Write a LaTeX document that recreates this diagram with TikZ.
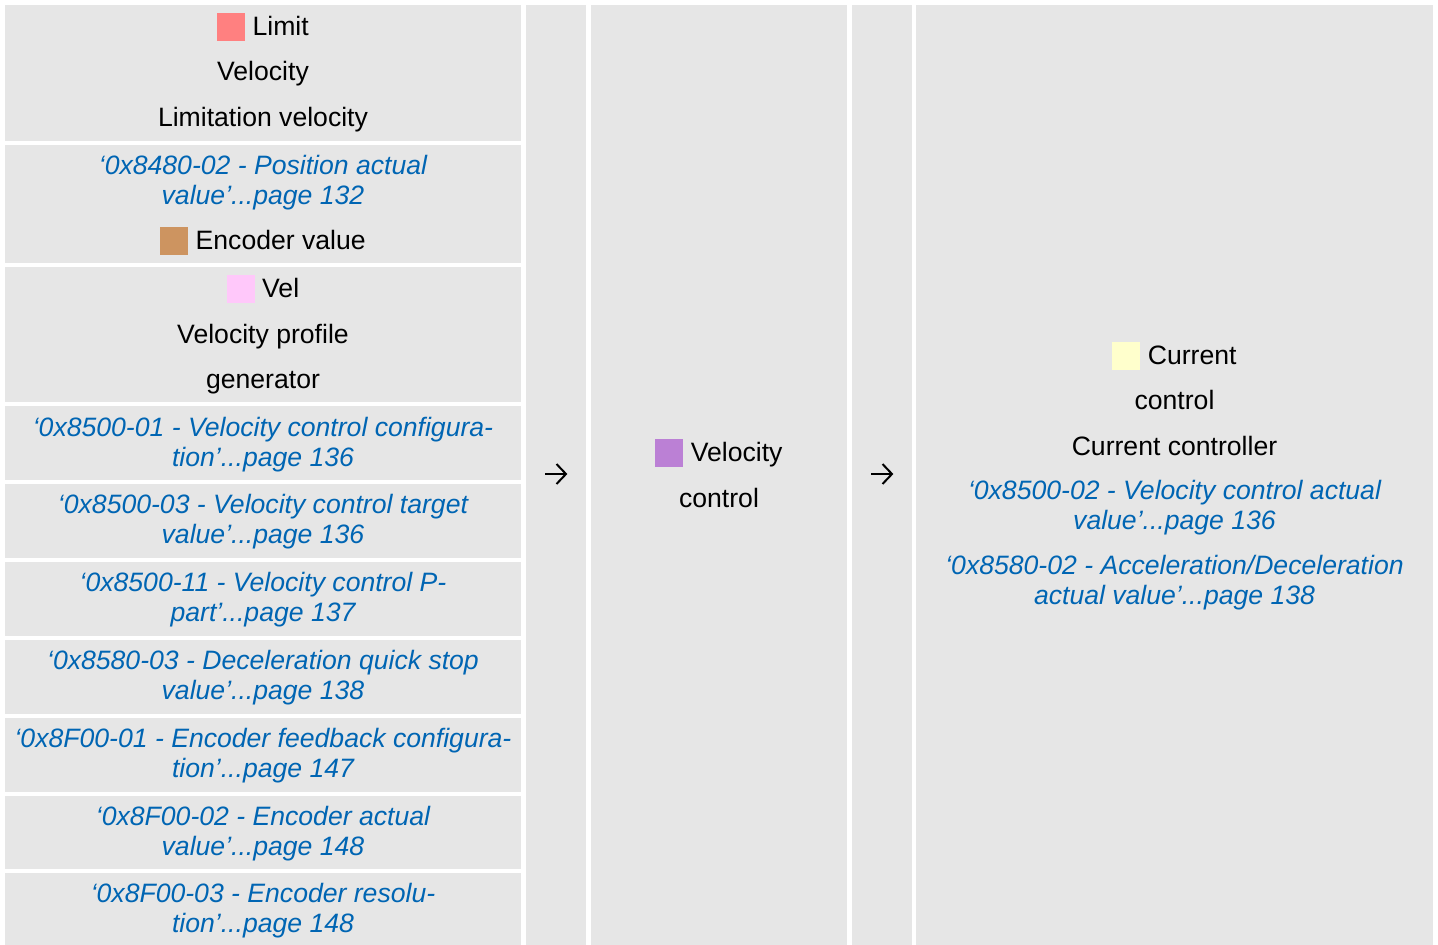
\documentclass[tikz,border=0pt]{standalone}
\usepackage{fontspec}
\setmainfont{Liberation Sans}
\definecolor{boxgray}{RGB}{230,230,230}
\definecolor{linkblue}{RGB}{0,101,179}
\definecolor{limitred}{RGB}{255,128,128}
\definecolor{encbrown}{RGB}{205,148,96}
\definecolor{velpink}{RGB}{255,200,250}
\definecolor{velpurple}{RGB}{187,128,213}
\definecolor{curyellow}{RGB}{255,255,204}
\newcommand{\colsq}[1]{\textcolor{#1}{\rule[-5.5pt]{28pt}{28pt}}}
\begin{document}
\begin{tikzpicture}[x=1pt,y=-1pt,
  panel/.style={fill=boxgray,draw=none,anchor=north west,inner sep=0pt,outer sep=0pt},
  lbl/.style={font=\fontsize{26.6}{30}\selectfont,inner sep=0pt,anchor=base,text=black},
  lnk/.style={font=\fontsize{26.6}{30}\selectfont\itshape,inner sep=0pt,align=center,text=linkblue},
  arrline/.style={draw=black,line width=2pt,line cap=butt,line join=miter}]
\useasboundingbox (0,0) rectangle (1438,945);
\fill[white] (0,0) rectangle (1438,945);
% left column panels
\node[panel,minimum width=516pt,minimum height=136pt] (r1) at (5,5) {};
\node[panel,minimum width=516pt,minimum height=118pt] (r2) at (5,145) {};
\node[panel,minimum width=516pt,minimum height=135pt] (r3) at (5,267) {};
\node[panel,minimum width=516pt,minimum height=74pt] (r4) at (5,406) {};
\node[panel,minimum width=516pt,minimum height=74pt] (r5) at (5,484) {};
\node[panel,minimum width=516pt,minimum height=74pt] (r6) at (5,562) {};
\node[panel,minimum width=516pt,minimum height=74pt] (r7) at (5,640) {};
\node[panel,minimum width=516pt,minimum height=74pt] (r8) at (5,718) {};
\node[panel,minimum width=516pt,minimum height=73pt] (r9) at (5,796) {};
\node[panel,minimum width=516pt,minimum height=72pt] (r10) at (5,873) {};
% other columns
\node[panel,minimum width=60pt,minimum height=940pt] (c2) at (526,5) {};
\node[panel,minimum width=256pt,minimum height=940pt] (c3) at (591,5) {};
\node[panel,minimum width=60pt,minimum height=940pt] (c4) at (852,5) {};
\node[panel,minimum width=517pt,minimum height=940pt] (c5) at (916,5) {};
% row 1
\node[lbl] (t1a) at (263,35.5) {\colsq{limitred} Limit};
\node[lbl] (t1b) at (263,80.5) {Velocity};
\node[lbl] (t1c) at (263,126.5) {Limitation velocity};
% row 2
\node[lnk] (t2a) at (263,182.5) {‘0x8480-02 - Position actual\\value’...page 132};
\node[lbl] (t2b) at (263,249.5) {\colsq{encbrown} Encoder value};
% row 3
\node[lbl] (t3a) at (263,297.5) {\colsq{velpink} Vel};
\node[lbl] (t3b) at (263,343.5) {Velocity profile};
\node[lbl] (t3c) at (263,388.5) {generator};
% rows 4-10
\node[lnk] (t4) at (263,444.5) {‘0x8500-01 - Velocity control configura-\\tion’...page 136};
\node[lnk] (t5) at (263,521.5) {‘0x8500-03 - Velocity control target\\value’...page 136};
\node[lnk] (t6) at (263,599.5) {‘0x8500-11 - Velocity control P-\\part’...page 137};
\node[lnk] (t7) at (263,677.5) {‘0x8580-03 - Deceleration quick stop\\value’...page 138};
\node[lnk] (t8) at (263,755.5) {‘0x8F00-01 - Encoder feedback configura-\\tion’...page 147};
\node[lnk] (t9) at (263,833.5) {‘0x8F00-02 - Encoder actual\\value’...page 148};
\node[lnk] (t10) at (263,910.5) {‘0x8F00-03 - Encoder resolu-\\tion’...page 148};
% arrows (glyph-like)
\coordinate (a1s) at (545,474);
\coordinate (a1e) at (566,474);
\coordinate (a1u) at (556.5,464);
\coordinate (a1d) at (556.5,484);
\draw[arrline] (a1s) -- (a1e);
\draw[arrline] (a1u) -- (a1e) -- (a1d);
\coordinate (a2s) at (871,474);
\coordinate (a2e) at (892,474);
\coordinate (a2u) at (882.5,464);
\coordinate (a2d) at (882.5,484);
\draw[arrline] (a2s) -- (a2e);
\draw[arrline] (a2u) -- (a2e) -- (a2d);
% velocity control
\node[lbl] (v1) at (719,461.5) {\colsq{velpurple} Velocity};
\node[lbl] (v2) at (719,507.5) {control};
% current control
\node[lbl] (k1) at (1174.5,364.5) {\colsq{curyellow} Current};
\node[lbl] (k2) at (1174.5,409.5) {control};
\node[lbl] (k3) at (1174.5,455.5) {Current controller};
\node[lnk] (k4) at (1174.5,507.5) {‘0x8500-02 - Velocity control actual\\value’...page 136};
\node[lnk] (k5) at (1174.5,582.5) {‘0x8580-02 - Acceleration/Deceleration\\actual value’...page 138};
\end{tikzpicture}
\end{document}
